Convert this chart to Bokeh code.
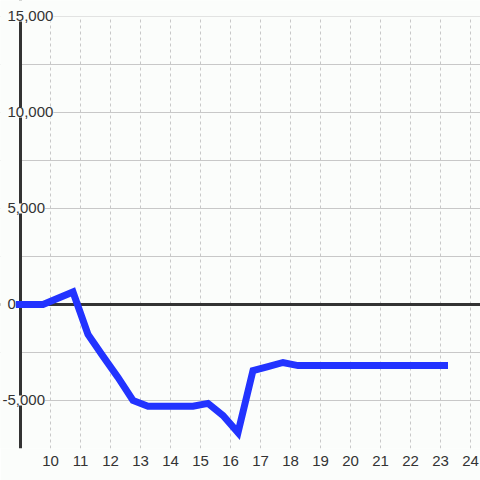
from bokeh.plotting import figure
from bokeh.models import Label, Span, FixedTicker, Range1d, BoxAnnotation
from bokeh.embed import file_html
from bokeh.resources import INLINE

# ---- data ----
hours = [8.75, 9.75, 10.75, 11.25, 11.75, 12.25, 12.75, 13.25, 13.75, 14.25, 14.75,
         15.25, 15.75, 16.25, 16.75, 17.25, 17.75, 18.25, 18.75, 19.25, 19.75,
         20.25, 20.75, 21.25, 21.75, 22.25, 22.75, 23.25]
values = [0, 0, 650, -1560, -2700, -3800, -5000, -5300, -5300, -5300, -5300,
          -5150, -5780, -6670, -3440, -3230, -3020, -3180, -3180, -3180, -3180,
          -3180, -3180, -3180, -3180, -3180, -3180, -3180]
x_ticks = list(range(10, 25))
y_ticks = [15000, 10000, 5000, 0, -5000]
y_grid = [-7500, -5000, -2500, 0, 2500, 5000, 7500, 10000, 12500, 15000]
y_labels = ["15,000", "10,000", "5,000", "0", "-5,000"]
x_start, y_top = 9, 15000

BG = "#fbfdfb"
INK = "#333333"
FONT = "Liberation Sans"

p = figure(width=480, height=480, output_backend="svg", toolbar_location=None,
           x_range=Range1d(8.3333, 24.3333), y_range=Range1d(-7500, 15833.3),
           min_border_left=0, min_border_top=0, min_border_right=0, min_border_bottom=32,
           background_fill_color=BG, border_fill_color=BG, outline_line_color=None)

p.yaxis.visible = False
p.xaxis.ticker = FixedTicker(ticks=x_ticks)
p.xaxis.axis_line_color = None
p.xaxis.major_tick_line_color = None
p.xaxis.minor_tick_line_color = None
p.xaxis.major_label_standoff = 1
p.xaxis.major_label_text_font = FONT
p.xaxis.major_label_text_font_size = "15px"
p.xaxis.major_label_text_color = INK

p.xgrid.ticker = FixedTicker(ticks=x_ticks)
p.xgrid.grid_line_color = "#c8c8c8"
p.xgrid.grid_line_dash = "3 3"
p.xgrid.grid_line_width = 1
p.ygrid.ticker = FixedTicker(ticks=y_grid)
p.ygrid.grid_line_color = "#c8c8c8"
p.ygrid.grid_line_width = 1

# zero line, then mask left of the y axis, then y axis, then mask above the top
p.add_layout(Span(location=0, dimension="width", line_color=INK, line_width=3, level="underlay"))
p.add_layout(BoxAnnotation(right=x_start, fill_color=BG, fill_alpha=1, line_color=None, level="underlay"))
p.add_layout(Span(location=x_start, dimension="height", line_color=INK, line_width=3, level="underlay"))
p.add_layout(BoxAnnotation(bottom=y_top, fill_color=BG, fill_alpha=1, line_color=None, level="underlay"))

p.line(hours, values, line_color="#2233ff", line_width=7, line_join="miter")

# y tick labels, drawn over the axis with a background (screen x from frame's left edge)
for v, t in zip(y_ticks, y_labels):
    p.add_layout(Label(x=2 if v < 0 else 7, y=v, text=t, x_units="screen",
                       text_align="left", text_baseline="middle",
                       text_font=FONT, text_font_size="15px", text_color=INK,
                       background_fill_color=BG, background_fill_alpha=1.0))

open("out.html", "w").write(file_html(p, INLINE))
